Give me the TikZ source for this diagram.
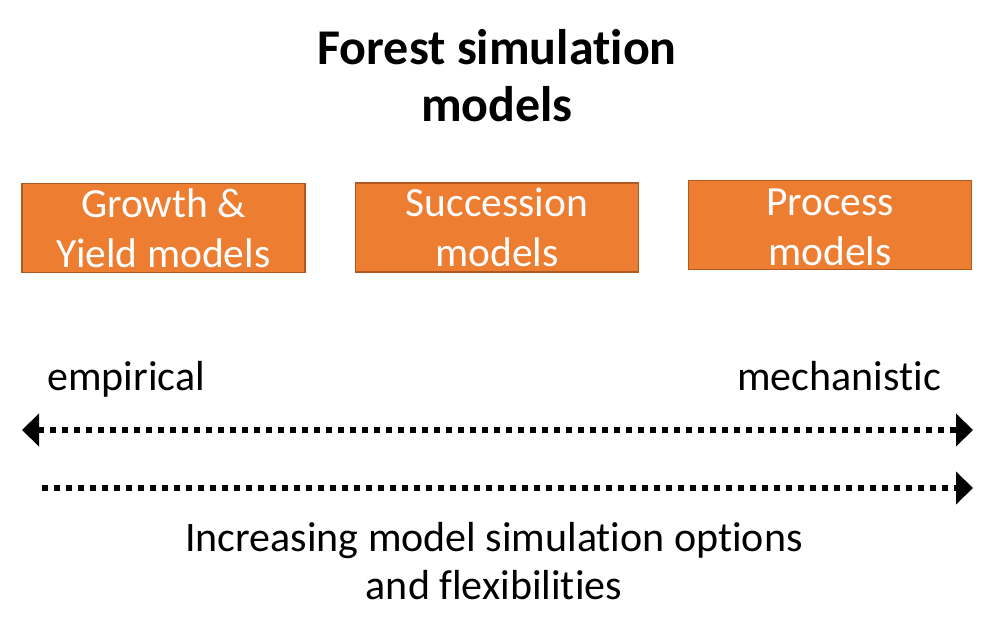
\documentclass[tikz,border=0pt]{standalone}
\usepackage{fontspec}
\setmainfont[Ligatures={NoCommon}]{Carlito}
\usetikzlibrary{arrows.meta}
\definecolor{boxfill}{HTML}{ED7D31}
\definecolor{boxline}{HTML}{AE5A21}
\tikzset{
  boxfont/.style={text=white, align=center, font=\fontsize{41.5}{50}\selectfont},
  modelbox/.style={draw=boxline, line width=1.5pt, fill=boxfill, minimum width=283pt, minimum height=89pt, inner sep=0pt, boxfont},
  lbl/.style={inner sep=0pt, font=\fontsize{42}{48}\selectfont, align=center},
  dotarrow/.style={line width=6pt, dash pattern=on 6pt off 6pt, line cap=butt}
}
\begin{document}
\begin{tikzpicture}[x=1pt,y=-1pt]
\useasboundingbox (0,0) rectangle (996,636);
\node[inner sep=0pt, align=center, font=\fontsize{50}{57}\selectfont\bfseries] (title) at (497,76) {Forest simulation\\models};
\node[modelbox] (gy) at (163.5,228) {Growth \&\\Yield models};
\node[modelbox] (sm) at (497,227.5) {Succession\\models};
\node[modelbox] (pm) at (830,225) {};
\node[inner sep=0pt, boxfont] (pmlabel) at (830,227.5) {Process\\models};
\node[lbl, anchor=base west] (emp) at (47,390) {empirical};
\node[lbl, anchor=base east] (mech) at (941,390) {mechanistic};
\coordinate (a1) at (22,430);
\coordinate (b1) at (973,430);
\coordinate (a2) at (42,488);
\coordinate (b2) at (973,488);
\draw[dotarrow, {Triangle[length=17pt, width=32pt]}-{Triangle[length=17pt, width=32pt]}] (a1) -- (b1);
\draw[dotarrow, -{Triangle[length=17pt, width=32pt]}] (a2) -- (b2);
\node[lbl] (inc) at (494,561) {Increasing model simulation options\\and flexibilities};
\end{tikzpicture}
\end{document}
